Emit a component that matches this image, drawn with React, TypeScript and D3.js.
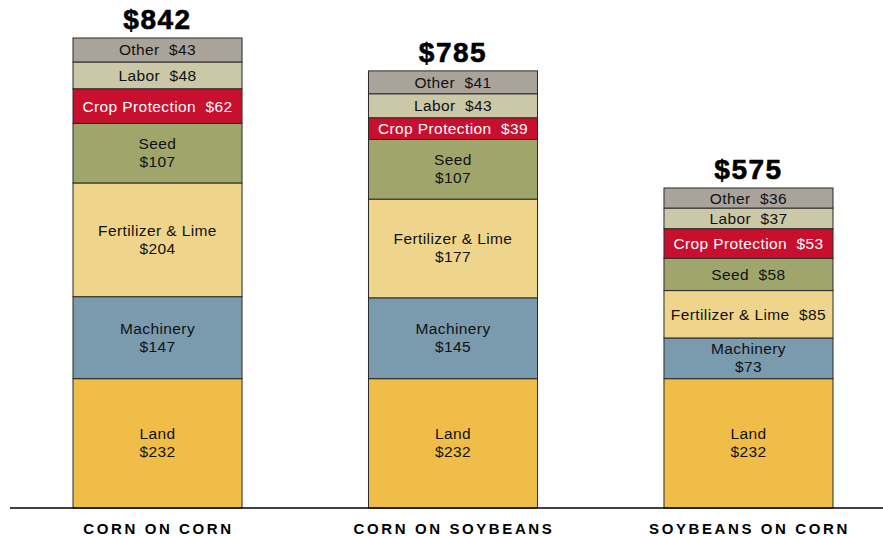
import React from "react";
import * as d3 from "d3";

const categories = ["CORN ON CORN", "CORN ON SOYBEANS", "SOYBEANS ON CORN"];
const totals = ["$842", "$785", "$575"];
const segments = ["Land", "Machinery", "Fertilizer & Lime", "Seed", "Crop Protection", "Labor", "Other"];
const land = [232, 232, 232];
const machinery = [147, 145, 73];
const fertilizer = [204, 177, 85];
const seed = [107, 107, 58];
const cropProtection = [62, 39, 53];
const labor = [48, 43, 37];
const other = [43, 41, 36];

const seriesValues = [land, machinery, fertilizer, seed, cropProtection, labor, other];
const colors = ["#f0bd48", "#7a9aae", "#efd58b", "#a0a66b", "#c8102e", "#cac8a7", "#aaa39b"];
const textColors = ["#111", "#111", "#111", "#111", "#fff", "#111", "#111"];

const W = 883;
const H = 536;
const baseY = 508;
const FONT = "'Liberation Sans', Arial, sans-serif";

export default function App() {
  const rows = categories.map((c, i) => {
    const r: any = { cat: c };
    segments.forEach((s, j) => (r[s] = seriesValues[j][i]));
    return r;
  });
  const stacked = d3.stack<any>().keys(segments)(rows);

  const x = d3.scaleBand().domain(categories).range([73, 833]).paddingInner(0.428).paddingOuter(0);
  const y = d3.scaleLinear().domain([0, 843]).range([baseY, 38]);

  return (
    <svg width={W} height={H} style={{ position: "absolute", left: 0, top: 0 }} fontFamily={FONT}>
      <rect width={W} height={H} fill="#fff" />
      {stacked.map((layer, j) => (
        <g key={segments[j]}>
          {layer.map((d, i) => {
            const x0 = x(categories[i])!;
            const bw = x.bandwidth();
            const y0 = y(d[1]);
            const y1 = y(d[0]);
            const h = y1 - y0;
            const cx = x0 + bw / 2;
            const cy = (y0 + y1) / 2;
            const v = seriesValues[j][i];
            const name = segments[j];
            const twoLine = h >= 40 && (name.length < 12 || h >= 60);
            return (
              <g key={i}>
                <rect x={x0} y={y0} width={bw} height={h} fill={colors[j]} stroke="#2a2a2a" strokeWidth={1} />
                {twoLine ? (
                  <text x={cx} textAnchor="middle" fontSize={15.5} letterSpacing={0.4} fill={textColors[j]}>
                    <tspan x={cx} y={cy - 4}>{name}</tspan>
                    <tspan x={cx} y={cy + 14}>{"$" + v}</tspan>
                  </text>
                ) : (
                  <text x={cx} y={cy + 5.5} textAnchor="middle" fontSize={15.5} letterSpacing={0.4} fill={textColors[j]} style={{ whiteSpace: "pre" }}>
                    {name + "  $" + v}
                  </text>
                )}
              </g>
            );
          })}
        </g>
      ))}
      {categories.map((c, i) => {
        const top = stacked[stacked.length - 1][i][1];
        const cx = x(c)! + x.bandwidth() / 2;
        return (
          <g key={c}>
            <text x={cx} y={y(top) - 9} textAnchor="middle" fontSize={28} fontWeight="bold" letterSpacing={1.5} stroke="#000" strokeWidth={0.6} fill="#000">
              {totals[i]}
            </text>
            <text x={cx + 1} y={534} textAnchor="middle" fontSize={15} fontWeight="bold" letterSpacing={2.6} fill="#000">
              {c}
            </text>
          </g>
        );
      })}
      <line x1={10} x2={W} y1={baseY} y2={baseY} stroke="#000" strokeWidth={1.5} />
    </svg>
  );
}
